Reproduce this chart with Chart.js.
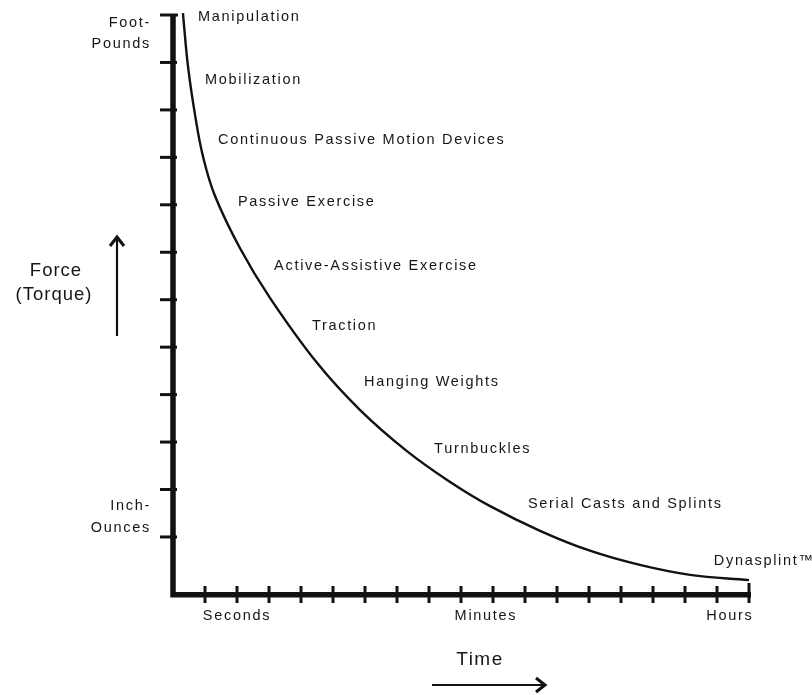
<!DOCTYPE html>
<html lang="en">
<head>
    <meta charset="UTF-8">
    <title>Force vs Time</title>
    <script src="https://cdn.jsdelivr.net/npm/chart.js"></script>
    <style>
        html, body { margin: 0; padding: 0; background: #fff; }
        .chart-wrap { width: 812px; height: 695px; position: relative; }
    </style>
</head>
<body>
    <div class="chart-wrap">
        <canvas id="curveChart"></canvas>
    </div>
    <script>
        // Curva (unidades: marcas do eixo)
        const curveX = [0.31, 0.47, 0.69, 0.94, 1.31, 2.09, 3.03, 4.50, 5.84, 7.31, 8.66, 9.91, 11.47, 13.03, 14.59, 16.16, 18.0];
        const curveY = [11.04, 9.91, 8.89, 8.01, 7.19, 6.09, 5.04, 3.67, 2.68, 1.81, 1.16, 0.65, 0.13, -0.29, -0.59, -0.80, -0.91];

        // Tratamentos ao longo da curva
        const methods = ['Manipulation', 'Mobilization', 'Continuous Passive Motion Devices', 'Passive Exercise',
            'Active-Assistive Exercise', 'Traction', 'Hanging Weights', 'Turnbuckles', 'Serial Casts and Splints', 'Dynasplint\u2122'];
        const methodX = [0.78, 1.0, 1.41, 2.03, 3.16, 4.34, 5.97, 8.16, 11.09, 16.9];
        const methodY = [10.96, 9.63, 8.37, 7.06, 5.71, 4.45, 3.27, 1.85, 0.70, -0.51];

        // Eixos
        const xTicks = [1, 2, 3, 4, 5, 6, 7, 8, 9, 10, 11, 12, 13, 14, 15, 16, 17, 18];
        const yTicks = [0, 1, 2, 3, 4, 5, 6, 7, 8, 9, 10, 11];
        const timeLabels = ['Seconds', 'Minutes', 'Hours'];
        const timeLabelX = [2.0, 9.78, 17.4];

        const INK = '#111';
        const TEXT = '#161616';

        function setFont(ctx, size, spacing) {
            ctx.font = size + 'px "Liberation Sans", Arial, sans-serif';
            ctx.letterSpacing = spacing + 'px';
        }

        const axesPlugin = {
            id: 'axesPlugin',
            afterDatasetsDraw(chart) {
                const ctx = chart.ctx;
                const x = chart.scales.x;
                const y = chart.scales.y;
                const area = chart.chartArea;
                ctx.save();
                ctx.strokeStyle = INK;
                ctx.lineCap = 'butt';

                // eixo Y e X
                ctx.lineWidth = 5.5;
                ctx.beginPath();
                ctx.moveTo(area.left, area.top);
                ctx.lineTo(area.left, area.bottom + 2.75);
                ctx.lineTo(area.right + 2, area.bottom + 2.75);
                ctx.stroke();

                // marcas do eixo Y
                ctx.lineWidth = 3;
                yTicks.forEach(v => {
                    const py = y.getPixelForValue(v);
                    ctx.beginPath();
                    ctx.moveTo(area.left - 13, py);
                    ctx.lineTo(area.left + (v === 11 ? 5 : 4), py);
                    ctx.stroke();
                });

                // marcas do eixo X
                xTicks.forEach(v => {
                    const px = x.getPixelForValue(v);
                    ctx.beginPath();
                    ctx.moveTo(px, area.bottom - (v === 18 ? 9 : 6));
                    ctx.lineTo(px, area.bottom + 11);
                    ctx.stroke();
                });

                // rótulos dos tratamentos
                ctx.fillStyle = TEXT;
                ctx.textBaseline = 'middle';
                ctx.textAlign = 'left';
                setFont(ctx, 14.5, 1.7);
                methods.forEach((m, i) => {
                    ctx.fillText(m, x.getPixelForValue(methodX[i]), y.getPixelForValue(methodY[i]));
                });

                // rótulos do tempo
                ctx.textAlign = 'center';
                timeLabels.forEach((t, i) => {
                    ctx.fillText(t, x.getPixelForValue(timeLabelX[i]), area.bottom + 24);
                });

                // unidades da força
                ctx.textAlign = 'right';
                const yTop = y.getPixelForValue(11);
                ctx.fillText('Foot-', area.left - 22, yTop + 8);
                ctx.fillText('Pounds', area.left - 22, yTop + 29);
                const yLow = y.getPixelForValue(0);
                ctx.fillText('Inch-', area.left - 22, yLow - 31);
                ctx.fillText('Ounces', area.left - 22, yLow - 9);

                // título do eixo Y
                setFont(ctx, 18.5, 1);
                ctx.textAlign = 'center';
                ctx.fillText('Force', 56, 271);
                ctx.fillText('(Torque)', 54, 295);

                // título do eixo X
                setFont(ctx, 19, 1.5);
                ctx.fillText('Time', 480, 660);

                // setas
                ctx.lineWidth = 2.2;
                ctx.beginPath();
                ctx.moveTo(117, 336);
                ctx.lineTo(117, 237);
                ctx.stroke();
                ctx.lineWidth = 3;
                ctx.lineJoin = 'miter';
                ctx.beginPath();
                ctx.moveTo(110, 246);
                ctx.lineTo(117, 237);
                ctx.lineTo(124, 246);
                ctx.stroke();

                ctx.lineWidth = 2.2;
                ctx.beginPath();
                ctx.moveTo(432, 685);
                ctx.lineTo(545, 685);
                ctx.stroke();
                ctx.lineWidth = 3;
                ctx.beginPath();
                ctx.moveTo(536, 678);
                ctx.lineTo(545, 685);
                ctx.lineTo(536, 692);
                ctx.stroke();

                ctx.restore();
            }
        };

        const ctx = document.getElementById('curveChart').getContext('2d');
        new Chart(ctx, {
            type: 'scatter',
            data: {
                datasets: [{
                    data: curveX.map((v, i) => ({ x: v, y: curveY[i] })),
                    showLine: true,
                    borderColor: INK,
                    borderWidth: 2.4,
                    pointRadius: 0,
                    tension: 0.4,
                    clip: false
                }]
            },
            options: {
                responsive: true,
                maintainAspectRatio: false,
                animation: false,
                layout: {
                    padding: { left: 173, right: 63, top: 15, bottom: 103 }
                },
                plugins: {
                    legend: { display: false },
                    tooltip: { enabled: false }
                },
                scales: {
                    x: { type: 'linear', min: 0, max: 18, display: false },
                    y: { type: 'linear', min: -1.16, max: 11, display: false }
                }
            },
            plugins: [axesPlugin]
        });
    </script>
</body>
</html>
